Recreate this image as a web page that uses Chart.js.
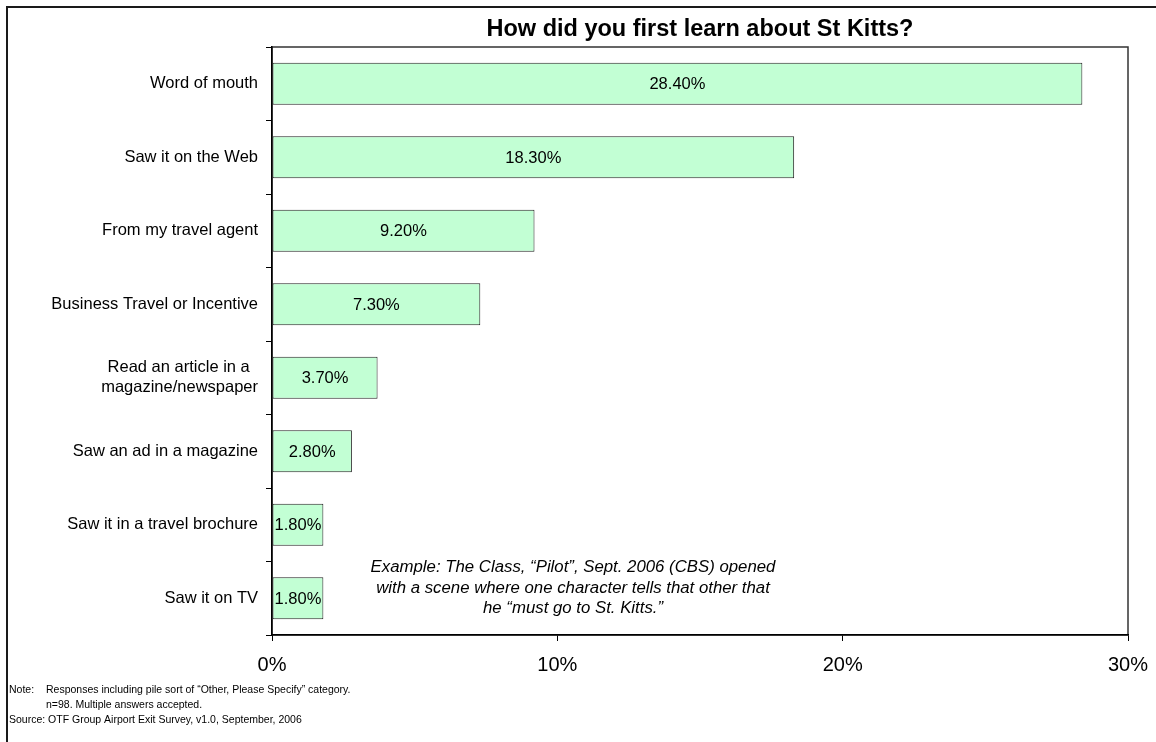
<!DOCTYPE html>
<html>
<head>
<meta charset="utf-8">
<script src="https://cdn.jsdelivr.net/npm/chart.js@4/dist/chart.umd.min.js"></script>
<style>
  html, body { margin: 0; padding: 0; background: #fff; }
  #wrap { width: 1156px; height: 742px; }
</style>
</head>
<body>
<div id="wrap"><canvas id="c" width="1156" height="742"></canvas></div>
<script>
// Survey answers, top to bottom (the en space centres the shorter line of the two-line label)
const categories = [
  'Word of mouth',
  'Saw it on the Web',
  'From my travel agent',
  'Business Travel or Incentive',
  ['Read an article in a\u2002', 'magazine/newspaper'],
  'Saw an ad in a magazine',
  'Saw it in a travel brochure',
  'Saw it on TV'
];
// Share of respondents, percent
const shares = [28.4, 18.3, 9.2, 7.3, 3.7, 2.8, 1.8, 1.8];
const xMin = 0;
const xMax = 30;
const xStep = 10;

const titleText = 'How did you first learn about St Kitts?';
const exampleLines = [
  'Example: The Class, \u201cPilot\u201d, Sept. 2006 (CBS) opened',
  'with a scene where one character tells that other that',
  'he \u201cmust go to St. Kitts.\u201d'
];
const noteLead = 'Note:';
const noteLines = [
  'Responses including pile sort of \u201cOther, Please Specify\u201d category.',
  'n=98. Multiple answers accepted.'
];
const sourceLine = 'Source: OTF Group Airport Exit Survey, v1.0, September, 2006';

const FONT = '"Liberation Sans", Arial, Helvetica, sans-serif';

// Frame, plot border, title, bar values, callout and footnotes
const decorations = {
  id: 'decorations',
  beforeDraw(chart) {
    const ctx = chart.ctx;
    const a = chart.chartArea;
    ctx.save();
    ctx.fillStyle = '#fff';
    ctx.fillRect(0, 0, chart.width, chart.height);
    // outer frame
    ctx.strokeStyle = '#1a1a1a';
    ctx.lineWidth = 2;
    ctx.beginPath();
    ctx.moveTo(7, chart.height + 5);
    ctx.lineTo(7, 7);
    ctx.lineTo(chart.width + 5, 7);
    ctx.stroke();
    // plot area border
    ctx.strokeStyle = '#333';
    ctx.lineWidth = 1.5;
    ctx.strokeRect(a.left, a.top, a.right - a.left, a.bottom - a.top);
    ctx.restore();
  },
  afterDatasetsDraw(chart) {
    const ctx = chart.ctx;
    const a = chart.chartArea;
    const xs = chart.scales.x;
    const ys = chart.scales.y;
    ctx.save();
    ctx.fillStyle = '#000';

    // title
    ctx.font = 'bold 23.5px ' + FONT;
    ctx.textAlign = 'center';
    ctx.textBaseline = 'middle';
    ctx.fillText(titleText, (a.left + a.right) / 2, 30);

    // bar values, kept inside the bar's left edge when the bar is short
    ctx.font = '16.5px ' + FONT;
    const meta = chart.getDatasetMeta(0);
    meta.data.forEach((bar, i) => {
      const p = bar.getProps(['x', 'y', 'base'], true);
      const label = shares[i].toFixed(2) + '%';
      const w = ctx.measureText(label).width;
      const cx = Math.max((p.x + p.base) / 2, p.base + w / 2 + 1);
      ctx.fillText(label, cx, p.y + 1);
    });

    // callout text
    ctx.font = 'italic 16.8px ' + FONT;
    const cx = xs.getPixelForValue(10.55);
    const cy = ys.getPixelForValue(categories.length - 1) - 10;
    exampleLines.forEach((t, k) => {
      ctx.fillText(t, cx, cy + (k - 1) * 20.5);
    });

    // footnotes
    ctx.font = '10.5px ' + FONT;
    ctx.textAlign = 'left';
    ctx.fillText(noteLead, 9, 690);
    const indent = 46;
    noteLines.forEach((t, k) => {
      ctx.fillText(t, indent, 690 + k * 15);
    });
    ctx.fillText(sourceLine, 9, 720);
    ctx.restore();
  }
};

new Chart(document.getElementById('c'), {
  type: 'bar',
  data: {
    labels: categories,
    datasets: [{
      data: shares,
      backgroundColor: '#c2ffd4',
      borderColor: '#222',
      borderWidth: 1,
      borderSkipped: false,
      barPercentage: 0.57,
      categoryPercentage: 1
    }]
  },
  options: {
    indexAxis: 'y',
    responsive: false,
    animation: false,
    devicePixelRatio: 1,
    layout: { padding: { left: 0, top: 47, right: 28, bottom: 0 } },
    plugins: {
      legend: { display: false },
      tooltip: { enabled: false },
      title: { display: false }
    },
    scales: {
      y: {
        offset: true,
        afterFit(s) { s.width = 272; },
        border: { color: '#000', width: 1.5 },
        grid: {
          offset: true,
          drawOnChartArea: false,
          drawTicks: true,
          tickLength: 6,
          color: '#000',
          lineWidth: 1
        },
        ticks: {
          color: '#000',
          padding: 8,
          font: { family: FONT, size: 16.5 }
        }
      },
      x: {
        min: xMin,
        max: xMax,
        afterFit(s) {
          s.height = 107;
          s.paddingLeft = 0;
          s.paddingRight = 0;
        },
        border: { color: '#000', width: 1.5 },
        grid: {
          drawOnChartArea: false,
          drawTicks: true,
          tickLength: 6,
          color: '#000',
          lineWidth: 1
        },
        ticks: {
          stepSize: xStep,
          color: '#000',
          padding: 12,
          font: { family: FONT, size: 20 },
          callback: v => v + '%'
        }
      }
    }
  },
  plugins: [decorations]
});
</script>
</body>
</html>
